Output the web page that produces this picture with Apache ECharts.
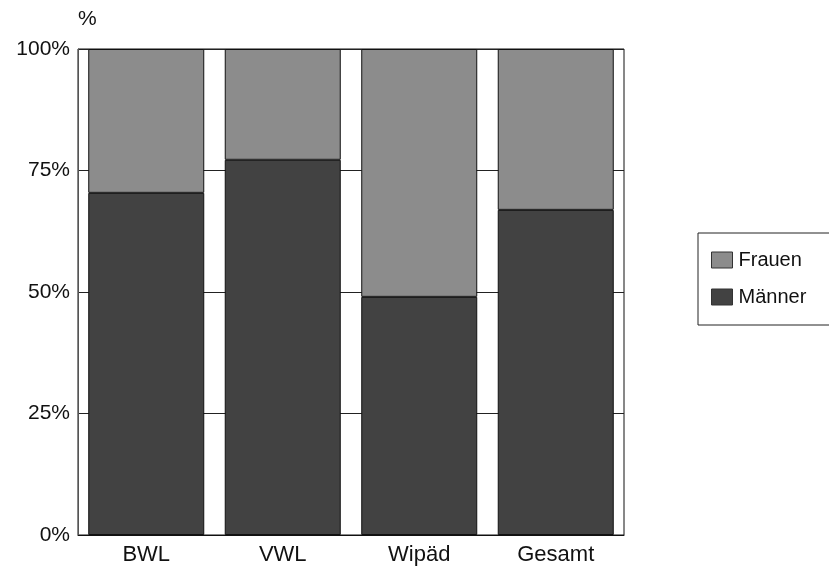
<!DOCTYPE html>
<html>
<head>
<meta charset="utf-8">
<script src="https://cdn.jsdelivr.net/npm/echarts@6/dist/echarts.min.js"></script>
<style>html,body{margin:0;padding:0;background:#fff}#c{width:829px;height:568px}</style>
</head>
<body>
<div id="c"></div>
<script>
var categories = ['BWL', 'VWL', 'Wipäd', 'Gesamt'];
var maenner = [70.4, 77.2, 49.0, 66.9];
var frauen = [29.6, 22.8, 51.0, 33.1];
var yTicks = [0, 25, 50, 75, 100];

var chart = echarts.init(document.getElementById('c'));
var font = 'Liberation Sans, Arial, sans-serif';
chart.setOption({
  animation: false,
  backgroundColor: '#fff',
  grid: { left: 78, right: 205, top: 49, bottom: 33, show: true, borderColor: '#111', borderWidth: 1, backgroundColor: 'transparent' },
  legend: {
    orient: 'vertical', left: 698, top: 233,
    data: ['Frauen', 'Männer'],
    icon: 'rect',
    itemWidth: 21, itemHeight: 16, itemGap: 17,
    padding: [17, 40, 18, 13],
    borderColor: '#222', borderWidth: 1,
    itemStyle: { borderColor: '#333', borderWidth: 1 },
    textStyle: { fontFamily: font, fontSize: 20, color: '#111', padding: [0, 0, 0, 1] }
  },
  xAxis: {
    type: 'category', data: categories,
    axisLine: { show: true, lineStyle: { color: '#111' } },
    axisTick: { show: false },
    axisLabel: { fontFamily: font, fontSize: 22, color: '#111', margin: 9 }
  },
  yAxis: {
    type: 'value', min: 0, max: 100, interval: 25,
    name: '%', nameLocation: 'end', nameGap: 19,
    nameTextStyle: { fontFamily: font, fontSize: 21, color: '#111', align: 'left', padding: [0, 0, 0, 0] },
    axisLine: { show: true, lineStyle: { color: '#555' } },
    axisTick: { show: false },
    axisLabel: { fontFamily: font, fontSize: 21, color: '#111', margin: 8, formatter: function (v) { return yTicks.indexOf(v) >= 0 ? v + '%' : ''; } },
    splitLine: { show: true, lineStyle: { color: '#222', width: 1 } }
  },
  series: [
    { name: 'Männer', type: 'bar', stack: 'a', data: maenner, barCategoryGap: '15%',
      itemStyle: { color: '#424242', borderColor: '#111', borderWidth: 1 } },
    { name: 'Frauen', type: 'bar', stack: 'a', data: frauen, barCategoryGap: '15%',
      itemStyle: { color: '#8c8c8c', borderColor: '#111', borderWidth: 1 } }
  ]
});
</script>
</body>
</html>
